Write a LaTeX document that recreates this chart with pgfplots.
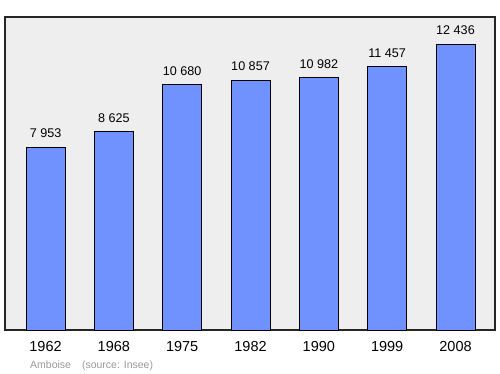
\documentclass[border=0pt]{standalone}
\usepackage{fontspec}
\setmainfont{Liberation Sans}
\usepackage{pgfplots}
\pgfplotsset{compat=1.18}
\definecolor{barblue}{RGB}{112,146,255}
\definecolor{bggray}{RGB}{238,238,238}
\begin{document}
\begin{tikzpicture}[x=1pt,y=1pt]
\path[use as bounding box] (0,0) rectangle (500,374);
\begin{axis}[
  at={(5pt,44pt)}, anchor=south west,
  scale only axis, width=490pt, height=313pt,
  axis background/.style={fill=bggray},
  axis line style={line width=1.2pt, black!85},
  xmin=-0.593, xmax=6.578, ymin=0, ymax=13620,
  xtick={0,1,2,3,4,5,6},
  xticklabels={1962,1968,1975,1982,1990,1999,2008},
  ytick=\empty,
  major tick length=0pt,
  xticklabel style={font=\fontsize{14.5}{16}\selectfont, yshift=-8pt},
  /pgf/number format/assume math mode=true,
  /pgf/number format/1000 sep={\ },
  nodes near coords,
  nodes near coords style={font=\fontsize{12.6}{14}\selectfont, yshift=5.7pt},
  clip=false,
]
\addplot[ybar, bar width=0.571, fill=barblue, draw=black, line width=0.8pt]
  coordinates {(0,7953) (1,8625) (2,10680) (3,10857) (4,10982) (5,11457) (6,12436)};
\end{axis}
\node[anchor=base west, text=black!40, font=\fontsize{10.5}{12}\selectfont, inner sep=0pt] at (30,5) {Amboise\hspace{11pt}(source: Insee)};
\end{tikzpicture}
\end{document}
